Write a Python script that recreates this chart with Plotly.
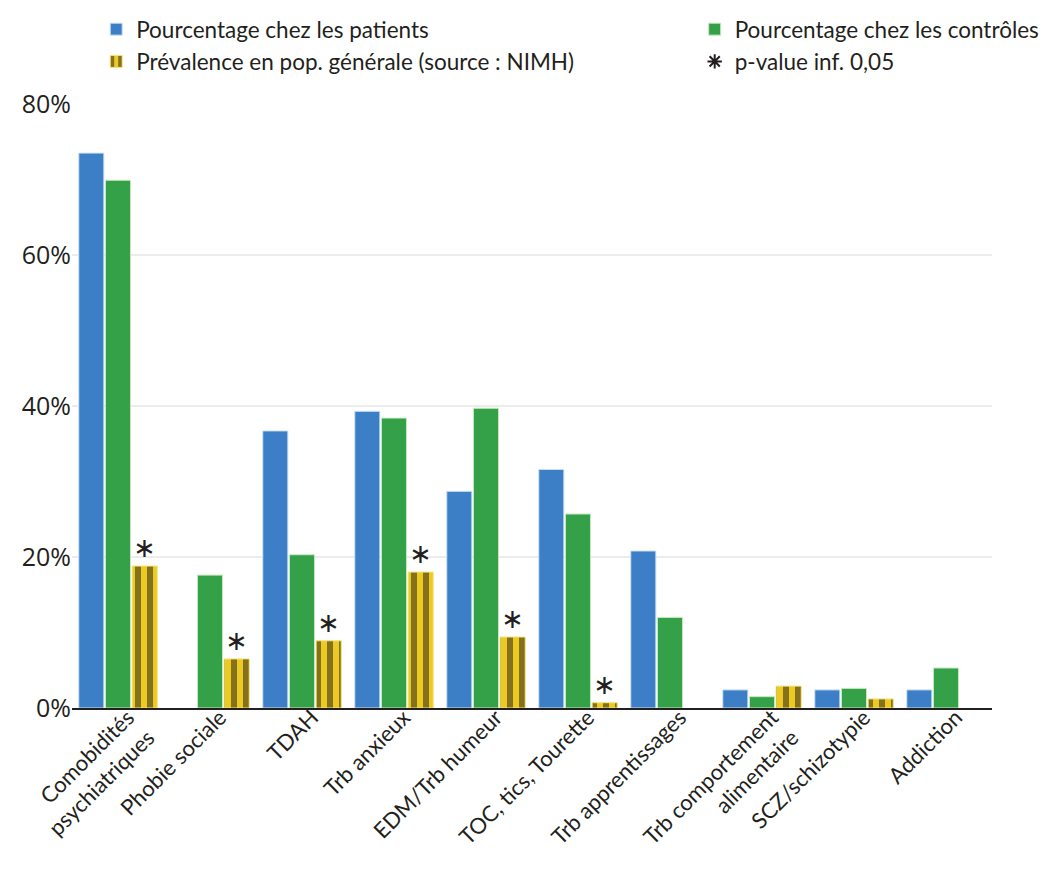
import plotly.graph_objects as go

categories = [
    "Comobidités<br>psychiatriques",
    "Phobie sociale",
    "TDAH",
    "Trb anxieux",
    "EDM/Trb humeur",
    "TOC, tics, Tourette",
    "Trb apprentissages",
    "Trb comportement<br>alimentaire",
    "SCZ/schizotypie",
    "Addiction",
]
patients = [73.5, None, 36.7, 39.3, 28.7, 31.6, 20.8, 2.4, 2.4, 2.4]
controles = [69.9, 17.6, 20.3, 38.4, 39.7, 25.7, 12.0, 1.5, 2.6, 5.3]
population = [18.8, 6.5, 8.9, 18.0, 9.4, 0.7, None, 2.9, 1.2, None]
significatif = [True, True, True, True, True, True, False, False, False, False]
y_ticks = [0, 20, 40, 60, 80]
y_ticklabels = ["0%", "20%", "40%", "60%", "80%"]

FONT = "Lato"
TXT = "#231f20"

fig = go.Figure()
fig.add_trace(go.Bar(
    x=categories, y=patients, name="Pourcentage chez les patients",
    marker=dict(color="#3c7fc6", line=dict(color="#cfe2f5", width=1)),
    legend="legend",
))
fig.add_trace(go.Bar(
    x=categories, y=controles, name="Pourcentage chez les contrôles",
    marker=dict(color="#34a047", line=dict(color="#c8ebc0", width=1)),
    legend="legend2",
))
fig.add_trace(go.Bar(
    x=categories, y=population, name="Prévalence en pop. générale (source : NIMH)",
    marker=dict(color="#f2d321", line=dict(color="#f6e27a", width=1),
                pattern=dict(shape="|", fgcolor="#1a1718", bgcolor="#ecca22",
                             size=12, solidity=0.5, fillmode="overlay")),
    text=["∗" if s else "" for s in significatif],
    textposition="outside", cliponaxis=False,
    textfont=dict(size=27, color=TXT, family="DejaVu Sans"),
    legend="legend",
))
fig.add_trace(go.Scatter(
    x=[None], y=[None], mode="markers", name="p-value inf. 0,05",
    marker=dict(symbol="asterisk-open", size=12, color=TXT,
                line=dict(color=TXT, width=2)),
    legend="legend2",
))

leg_common = dict(xanchor="left", yanchor="top", xref="container", yref="container",
                  font=dict(size=22.5, family=FONT, color=TXT),
                  bgcolor="rgba(0,0,0,0)", tracegroupgap=0, itemwidth=30)

fig.update_layout(
    width=1050, height=879,
    paper_bgcolor="white", plot_bgcolor="white",
    margin=dict(l=64, r=66, t=96, b=179, autoexpand=False),
    font=dict(family=FONT, size=20, color=TXT),
    barmode="group", bargap=0.13, bargroupgap=0.06,
    legend=dict(x=0.084, y=1.015, **leg_common),
    legend2=dict(x=0.654, y=1.015, **leg_common),
    xaxis=dict(tickangle=-45, showline=True, linecolor="#231f20", linewidth=2,
               ticks="", automargin=False, ticklabelstandoff=-14, ticklabelshift=10,
               tickfont=dict(size=22, family=FONT, color=TXT)),
    yaxis=dict(range=[0, 80], tickvals=y_ticks, ticktext=y_ticklabels,
               gridcolor="#ececec", gridwidth=1.5, zeroline=False, automargin=False,
               tickfont=dict(size=25, family="Open Sans", color=TXT)),
)

fig.write_html("out.html")
